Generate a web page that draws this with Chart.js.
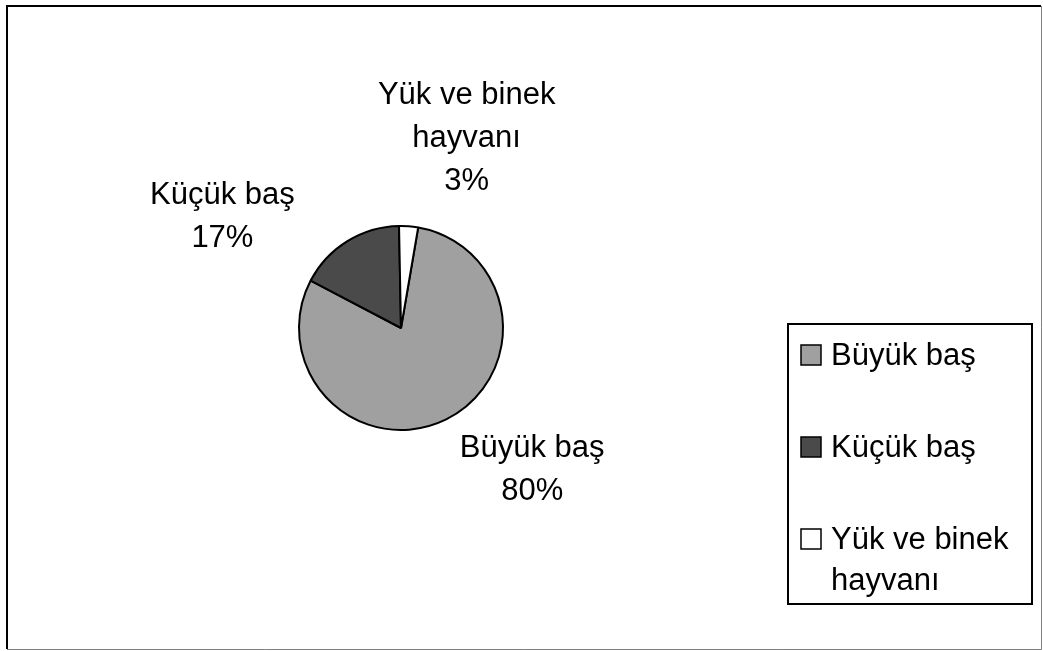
<!DOCTYPE html>
<html>
<head>
<meta charset="utf-8">
<script src="https://cdn.jsdelivr.net/npm/chart.js@4.4.1/dist/chart.umd.min.js"></script>
<style>
  html, body { margin: 0; padding: 0; background: #fff; }
  #wrap { width: 1043px; height: 651px; position: relative; }
</style>
</head>
<body>
<div id="wrap"><canvas id="chart" width="1043" height="651"></canvas></div>
<script>
// data
var categories = ["Büyük baş", "Küçük baş", "Yük ve binek hayvanı"];
var shares = [80, 17, 3];
var sliceColors = ["#a0a0a0", "#4a4a4a", "#ffffff"];

var FONT = "31px 'Liberation Sans', Arial, sans-serif";

function wrapText(ctx, text, maxW) {
  var words = text.split(" ");
  var lines = [];
  var cur = "";
  words.forEach(function (w) {
    var test = cur ? cur + " " + w : w;
    if (cur && ctx.measureText(test).width > maxW) {
      lines.push(cur);
      cur = w;
    } else {
      cur = test;
    }
  });
  if (cur) lines.push(cur);
  return lines;
}

// outer frame like the excel chart area
var framePlugin = {
  id: 'frame',
  beforeDraw: function (chart) {
    var ctx = chart.ctx;
    ctx.save();
    ctx.fillStyle = "#fff";
    ctx.fillRect(0, 0, chart.width, chart.height);
    ctx.lineWidth = 2;
    ctx.strokeStyle = "#000";
    ctx.beginPath();
    ctx.moveTo(7, 649);
    ctx.lineTo(7, 6);
    ctx.lineTo(1041, 6);
    ctx.stroke();
    ctx.lineWidth = 1;
    ctx.strokeStyle = "#808080";
    ctx.beginPath();
    ctx.moveTo(1041.5, 6);
    ctx.lineTo(1041.5, 649.5);
    ctx.lineTo(7, 649.5);
    ctx.stroke();
    ctx.restore();
  }
};

// labels outside the slices: name + percent
var sliceLabels = {
  id: 'sliceLabels',
  afterDatasetsDraw: function (chart, args, opts) {
    var ctx = chart.ctx;
    var meta = chart.getDatasetMeta(0);
    var data = chart.data.datasets[0].data;
    var total = data.reduce(function (a, b) { return a + b; }, 0);
    ctx.save();
    ctx.font = FONT;
    ctx.fillStyle = "#000";
    ctx.textAlign = "center";
    ctx.textBaseline = "middle";
    meta.data.forEach(function (arc, i) {
      var p = arc.getProps(['x', 'y', 'startAngle', 'endAngle', 'outerRadius'], true);
      var mid = (p.startAngle + p.endAngle) / 2;
      var ax = p.x + Math.cos(mid) * p.outerRadius;
      var ay = p.y + Math.sin(mid) * p.outerRadius;
      var sh = opts.shift[i];
      var lines = wrapText(ctx, chart.data.labels[i], 195);
      lines.push(Math.round(data[i] / total * 100) + "%");
      var cx = ax + sh[0], cy = ay + sh[1];
      lines.forEach(function (ln, k) {
        ctx.fillText(ln, cx, cy + (k - (lines.length - 1) / 2) * opts.lineHeight);
      });
    });
    ctx.restore();
  }
};

// boxed legend on the right
var boxLegend = {
  id: 'boxLegend',
  afterDraw: function (chart, args, opts) {
    var ctx = chart.ctx;
    var ds = chart.data.datasets[0];
    ctx.save();
    ctx.lineWidth = 2;
    ctx.strokeStyle = "#000";
    ctx.strokeRect(opts.left, opts.top, opts.width, opts.height);
    ctx.font = FONT;
    ctx.textAlign = "left";
    ctx.textBaseline = "alphabetic";
    chart.data.labels.forEach(function (lab, i) {
      var base = opts.firstBaseline + i * opts.step;
      ctx.fillStyle = ds.backgroundColor[i];
      ctx.fillRect(opts.left + 13, base - 20, 20, 20);
      ctx.lineWidth = 1.5;
      ctx.strokeStyle = "#000";
      ctx.strokeRect(opts.left + 13, base - 20, 20, 20);
      ctx.fillStyle = "#000";
      var lines = wrapText(ctx, lab, 190);
      lines.forEach(function (ln, k) {
        ctx.fillText(ln, opts.left + 43, base + k * 41);
      });
    });
    ctx.restore();
  }
};

new Chart('chart', {
  type: 'pie',
  data: {
    labels: categories,
    datasets: [{
      data: shares,
      backgroundColor: sliceColors,
      borderColor: "#000",
      borderWidth: 2
    }]
  },
  options: {
    responsive: false,
    animation: false,
    rotation: 9.7,
    layout: {
      padding: { left: 298, right: 539, top: 225, bottom: 220 }
    },
    plugins: {
      legend: { display: false },
      tooltip: { enabled: false },
      sliceLabels: { shift: [[86, 51], [-125, -24], [58, -88]], lineHeight: 43 },
      boxLegend: { left: 788, top: 324, width: 244, height: 280, firstBaseline: 365, step: 92 }
    }
  },
  plugins: [framePlugin, sliceLabels, boxLegend]
});
</script>
</body>
</html>
